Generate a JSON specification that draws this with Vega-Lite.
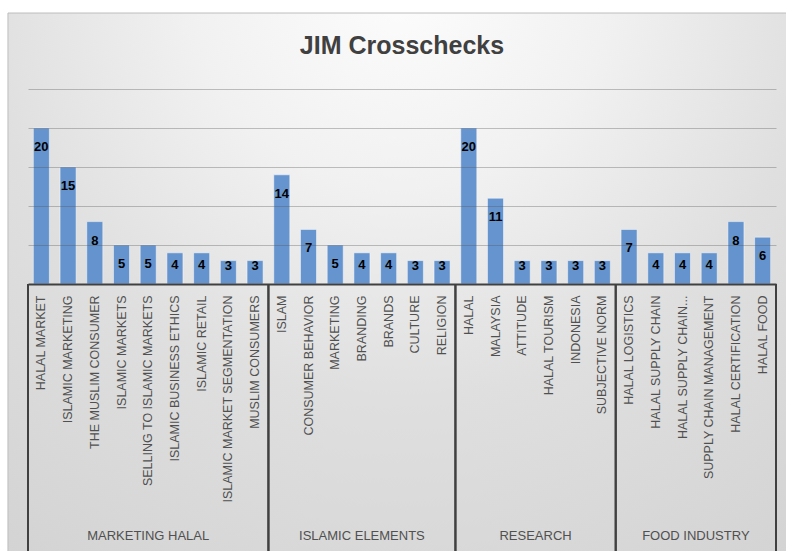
{
  "$schema": "https://vega.github.io/schema/vega-lite/v6.json",
  "autosize": "none",
  "width": 748,
  "height": 195,
  "padding": {"top": 89, "left": 28, "right": 10, "bottom": 267},
  "background": "#ffffff",
  "title": {
    "text": "JIM Crosschecks",
    "font": "Liberation Sans",
    "fontSize": 25,
    "fontWeight": "bold",
    "color": "#404040",
    "anchor": "middle",
    "frame": "group",
    "offset": -46
  },
  "config": {
    "view": {"stroke": null},
    "axisY": {"grid": true, "gridColor": "#555555", "gridOpacity": 0.35, "gridWidth": 1, "labels": false, "ticks": false, "domain": false, "title": null, "values": [0, 5, 10, 15, 20, 25]},
    "axisX": {"labelFont": "Liberation Sans", "labelFontSize": 12.5, "labelColor": "#505050", "labelAngle": -90, "labelPadding": 11, "labelLimit": 400, "ticks": false, "domainColor": "#404040", "domainWidth": 2, "title": null, "grid": false}
  },
  "layer": [
    {
      "data": {"values": [
        {"group": "MARKETING HALAL", "first": 0, "last": 9},
        {"group": "ISLAMIC ELEMENTS", "first": 9, "last": 16},
        {"group": "RESEARCH", "first": 16, "last": 22},
        {"group": "FOOD INDUSTRY", "first": 22, "last": 28}
      ]},
      "layer": [
        {"transform": [{"filter": "datum.first == 0"}],
         "mark": {"type": "rect", "clip": false, "stroke": "#bdbdbd", "strokeWidth": 1,
           "fill": {"gradient": "radial", "x1": 0.5, "y1": 0.1, "r1": 0, "x2": 0.5, "y2": 0.1, "r2": 0.9,
             "stops": [{"offset": 0, "color": "#fdfdfd"}, {"offset": 0.3, "color": "#f1f1f1"}, {"offset": 0.6, "color": "#dfdfdf"}, {"offset": 1, "color": "#d3d3d3"}]}},
         "encoding": {
           "x": {"datum": -0.75, "type": "quantitative", "scale": {"domain": [0, 28], "nice": false, "zero": false}, "axis": null},
           "x2": {"datum": 28.6},
           "y": {"datum": 34.74},
           "y2": {"datum": -36}
         }},
        {"mark": {"type": "rule", "color": "#404040", "strokeWidth": 2, "clip": false},
         "encoding": {
           "x": {"field": "first", "type": "quantitative", "axis": null},
           "y": {"datum": 0},
           "y2": {"datum": -36}
         }},
        {"mark": {"type": "rule", "color": "#404040", "strokeWidth": 2, "clip": false},
         "encoding": {
           "x": {"field": "last", "type": "quantitative", "axis": null},
           "y": {"datum": 0},
           "y2": {"datum": -36}
         }},
        {"transform": [{"calculate": "(datum.first + datum.last) / 2", "as": "mid"}],
         "mark": {"type": "text", "font": "Liberation Sans", "fontSize": 13, "color": "#505050", "baseline": "middle", "clip": false},
         "encoding": {
           "x": {"field": "mid", "type": "quantitative", "axis": null},
           "y": {"datum": -32.3},
           "text": {"field": "group", "type": "nominal"}
         }}
      ]
    },
    {
      "data": {"values": [
        {"group": "MARKETING HALAL", "item": "HALAL MARKET", "value": 20},
        {"group": "MARKETING HALAL", "item": "ISLAMIC MARKETING", "value": 15},
        {"group": "MARKETING HALAL", "item": "THE MUSLIM CONSUMER", "value": 8},
        {"group": "MARKETING HALAL", "item": "ISLAMIC MARKETS", "value": 5},
        {"group": "MARKETING HALAL", "item": "SELLING TO ISLAMIC MARKETS", "value": 5},
        {"group": "MARKETING HALAL", "item": "ISLAMIC BUSINESS ETHICS", "value": 4},
        {"group": "MARKETING HALAL", "item": "ISLAMIC RETAIL", "value": 4},
        {"group": "MARKETING HALAL", "item": "ISLAMIC MARKET SEGMENTATION", "value": 3},
        {"group": "MARKETING HALAL", "item": "MUSLIM CONSUMERS", "value": 3},
        {"group": "ISLAMIC ELEMENTS", "item": "ISLAM", "value": 14},
        {"group": "ISLAMIC ELEMENTS", "item": "CONSUMER BEHAVIOR", "value": 7},
        {"group": "ISLAMIC ELEMENTS", "item": "MARKETING", "value": 5},
        {"group": "ISLAMIC ELEMENTS", "item": "BRANDING", "value": 4},
        {"group": "ISLAMIC ELEMENTS", "item": "BRANDS", "value": 4},
        {"group": "ISLAMIC ELEMENTS", "item": "CULTURE", "value": 3},
        {"group": "ISLAMIC ELEMENTS", "item": "RELIGION", "value": 3},
        {"group": "RESEARCH", "item": "HALAL", "value": 20},
        {"group": "RESEARCH", "item": "MALAYSIA", "value": 11},
        {"group": "RESEARCH", "item": "ATTITUDE", "value": 3},
        {"group": "RESEARCH", "item": "HALAL TOURISM", "value": 3},
        {"group": "RESEARCH", "item": "INDONESIA", "value": 3},
        {"group": "RESEARCH", "item": "SUBJECTIVE NORM", "value": 3},
        {"group": "FOOD INDUSTRY", "item": "HALAL LOGISTICS", "value": 7},
        {"group": "FOOD INDUSTRY", "item": "HALAL SUPPLY CHAIN", "value": 4},
        {"group": "FOOD INDUSTRY", "item": "HALAL SUPPLY CHAIN...", "value": 4},
        {"group": "FOOD INDUSTRY", "item": "SUPPLY CHAIN MANAGEMENT", "value": 4},
        {"group": "FOOD INDUSTRY", "item": "HALAL CERTIFICATION", "value": 8},
        {"group": "FOOD INDUSTRY", "item": "HALAL FOOD", "value": 6}
      ]},
      "encoding": {
        "x": {"field": "item", "type": "nominal", "sort": null, "scale": {"paddingInner": 0.4, "paddingOuter": 0.2}, "axis": {"zindex": 1}},
        "y": {"field": "value", "type": "quantitative", "scale": {"domain": [0, 25], "nice": false}, "axis": {"zindex": 1}}
      },
      "layer": [
        {"mark": {"type": "bar", "color": "#5b8dcc", "opacity": 0.92, "stroke": "#ffffff", "strokeOpacity": 0.5, "strokeWidth": 1}},
        {"transform": [{"filter": "datum.value >= 5"}], "mark": {"type": "text", "font": "Liberation Sans", "fontSize": 13, "fontWeight": "bold", "color": "#000000", "baseline": "middle", "dy": 19}, "encoding": {"text": {"field": "value", "type": "quantitative"}}},
        {"transform": [{"filter": "datum.value == 4"}], "mark": {"type": "text", "font": "Liberation Sans", "fontSize": 13, "fontWeight": "bold", "color": "#000000", "baseline": "middle", "dy": 12}, "encoding": {"text": {"field": "value", "type": "quantitative"}}},
        {"transform": [{"filter": "datum.value == 3"}], "mark": {"type": "text", "font": "Liberation Sans", "fontSize": 13, "fontWeight": "bold", "color": "#000000", "baseline": "middle", "dy": 5}, "encoding": {"text": {"field": "value", "type": "quantitative"}}}
      ]
    }
  ],
  "resolve": {"scale": {"x": "independent"}, "axis": {"x": "independent"}}
}
